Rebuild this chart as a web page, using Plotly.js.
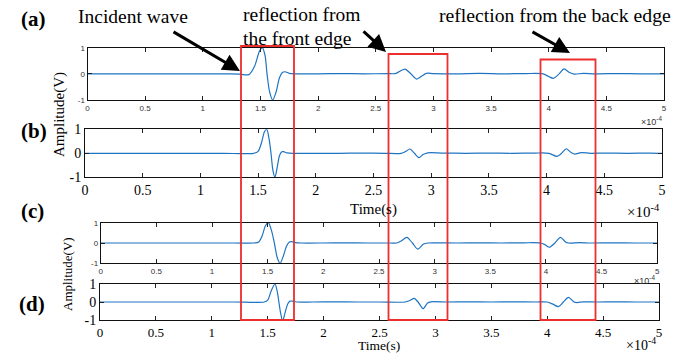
<!DOCTYPE html>
<html>
<head>
<meta charset="utf-8">
<script src="https://cdn.plot.ly/plotly-3.0.1.min.js"></script>
<style>html,body{margin:0;padding:0;background:#fff;}#chart{width:690px;height:353px;}</style>
</head>
<body>
<div id="chart"></div>
<script>
// ---- data (time in units of 1e-4 s, amplitude in V) ----
const tA = [0,0.3,0.6,0.9,1.2,1.33,1.37,1.40,1.45,1.49,1.516,1.54,1.557,1.58,1.606,1.635,1.665,1.69,1.713,1.75,1.8,2.0,2.2,2.4,2.6,2.67,2.71,2.754,2.80,2.855,2.90,2.94,3.0,3.2,3.4,3.6,3.8,3.95,4.0,4.04,4.09,4.133,4.18,4.22,4.3,4.4,4.6,4.8,5.0];
const vA = [0,0,0,0,0,-0.01,-0.04,-0.03,0.3,0.85,1.0,0.7,0,-0.7,-1.0,-0.7,-0.15,0.05,0.08,0.02,0,0,0.01,0,0.01,0.01,0.1,0.18,0.02,-0.2,-0.08,0.02,0.01,0,0.015,0,0.01,0,-0.1,-0.17,0,0.19,0.05,-0.01,0.02,0,0.01,0,0];

const tB = [0,0.3,0.6,0.9,1.2,1.46,1.50,1.53,1.555,1.575,1.595,1.612,1.628,1.646,1.665,1.685,1.705,1.72,1.75,1.8,2.0,2.2,2.4,2.6,2.74,2.78,2.816,2.855,2.894,2.93,2.97,3.1,3.3,3.5,3.7,3.9,4.02,4.09,4.13,4.17,4.21,4.24,4.3,4.38,4.5,4.7,4.9,5.0];
const vB = [0,0,0,0,0,0,0.08,0.45,0.9,1.0,0.6,0,-0.7,-1.0,-0.6,-0.1,0.06,0.07,0.02,0,0,0,0.01,0,0,0.08,0.18,0,-0.18,-0.05,0.02,0.01,0,0.01,0,0.01,0,-0.13,0,0.19,0.04,-0.03,0.03,0,0.01,0,0.01,0];

const tC = [0,0.3,0.6,0.9,1.2,1.38,1.42,1.45,1.48,1.506,1.535,1.56,1.585,1.611,1.64,1.67,1.695,1.716,1.75,1.8,2.0,2.2,2.4,2.6,2.66,2.70,2.75,2.80,2.848,2.90,2.94,3.0,3.2,3.4,3.6,3.8,3.95,3.99,4.03,4.08,4.13,4.17,4.2,4.3,4.4,4.6,4.8,5.0];
const vC = [0,0,0,0,0,0,0.05,0.35,0.85,1.0,0.6,0,-0.7,-1.0,-0.65,-0.15,0.05,0.07,0.02,0,0,0.01,0,0,0,0.1,0.28,0,-0.3,-0.05,0,0.01,0,0.01,0,0.01,0,-0.08,-0.21,0,0.28,0.08,0,0.02,0,0.01,0,0];

const tD = [0,0.3,0.6,0.9,1.2,1.47,1.50,1.53,1.565,1.585,1.60,1.615,1.634,1.655,1.68,1.70,1.72,1.76,1.9,2.1,2.3,2.5,2.73,2.77,2.81,2.845,2.89,2.93,2.96,3.1,3.3,3.5,3.7,3.9,4.0,4.05,4.10,4.145,4.19,4.24,4.27,4.32,4.45,4.6,4.8,5.0];
const vD = [0,0,0,0,0,0,0.1,0.6,1.0,0.6,0,-0.6,-1.05,-0.6,-0.1,0.05,0.05,0,0,0.01,0,0,0,0.08,0.2,0,-0.37,-0.05,0.01,0,0.01,0,0.01,0,0,-0.12,-0.26,0,0.26,0,-0.03,0.01,0,0.01,0,0];

const xTickVals = [0,0.5,1,1.5,2,2.5,3,3.5,4,4.5,5];
const xTickText = ['0','0.5','1','1.5','2','2.5','3','3.5','4','4.5','5'];
const yTickVals = [-1,0,1];
const yTickText = ['-1','0','1'];

// ---- layout helpers ----
const W = 690, H = 353;
const px = x => x / W;
const py = y => 1 - y / H;
const SERIF = 'Liberation Serif, Times New Roman, serif';
const SANS = 'Liberation Sans, Arial, sans-serif';
const LINE = '#1f74c2';

function trace(t, v, i) {
  const s = i === 1 ? '' : String(i);
  return {x: t, y: v, xaxis: 'x' + s, yaxis: 'y' + s, type: 'scatter', mode: 'lines',
          line: {color: LINE, width: 1.2, shape: 'spline', smoothing: 0.8}, hoverinfo: 'skip'};
}
function xax(dom, anchor, small, fsize) {
  return {domain: dom, anchor: anchor, range: [0, 5], tickvals: xTickVals, ticktext: xTickText,
    ticks: 'inside', ticklen: 4, tickcolor: '#222', showline: true, linecolor: '#111', linewidth: 1,
    mirror: 'ticks', showgrid: false, zeroline: false,
    tickfont: small ? {family: SANS, size: 8, color: '#333'} : {family: SERIF, size: fsize || 14, color: '#000'}};
}
function yax(dom, anchor, small) {
  return {domain: dom, anchor: anchor, range: [-1, 1], tickvals: yTickVals, ticktext: yTickText,
    ticks: 'inside', ticklen: 4, tickcolor: '#222', showline: true, linecolor: '#111', linewidth: 1,
    mirror: 'ticks', showgrid: false, zeroline: false,
    tickfont: small ? {family: SANS, size: 8, color: '#333'} : {family: SERIF, size: 14, color: '#000'}};
}

const data = [trace(tA, vA, 1), trace(tB, vB, 2), trace(tC, vC, 3), trace(tD, vD, 4)];

function txt(text, x, y, size, opts) {
  return Object.assign({xref: 'paper', yref: 'paper', x: px(x), y: py(y), text: text, showarrow: false,
    xanchor: 'left', yanchor: 'middle', font: {family: SERIF, size: size, color: '#000'}}, opts || {});
}
function arrow(tipX, tipY, tailX, tailY) {
  return {xref: 'paper', yref: 'paper', x: px(tipX), y: py(tipY), text: '', showarrow: true,
    ax: tailX - tipX, ay: tailY - tipY, arrowhead: 2, arrowsize: 1.15, arrowwidth: 3, arrowcolor: '#000', standoff: 0};
}
function rect(x0, y0, x1, y1) {
  return {type: 'rect', xref: 'paper', yref: 'paper', x0: px(x0), x1: px(x1), y0: py(y1), y1: py(y0),
    line: {color: 'rgb(238,45,45)', width: 1.8}, fillcolor: 'rgba(0,0,0,0)', layer: 'above'};
}

const layout = {
  width: W, height: H, margin: {l: 0, r: 0, t: 0, b: 0},
  paper_bgcolor: '#fff', plot_bgcolor: '#fff', showlegend: false,
  xaxis: xax([px(87.5), px(664)], 'y', true),
  yaxis: yax([py(100), py(47.7)], 'x', true),
  xaxis2: xax([px(85), px(662)], 'y2', false),
  yaxis2: yax([py(177.3), py(129.3)], 'x2', false),
  xaxis3: xax([px(100.7), px(657.3)], 'y3', true),
  yaxis3: yax([py(263.3), py(222.7)], 'x3', true),
  xaxis4: xax([px(100), px(659)], 'y4', false, 13),
  yaxis4: yax([py(320), py(284)], 'x4', false),
  shapes: [
    rect(241, 46, 294, 320),
    rect(388.5, 54, 447.5, 320),
    rect(540.5, 59.5, 595.5, 320)
  ],
  annotations: [
    txt('<b>(a)</b>', 19, 19, 21),
    txt('<b>(b)</b>', 19, 131, 21),
    txt('<b>(c)</b>', 19, 211, 21),
    txt('<b>(d)</b>', 17, 304, 21),
    txt('Incident wave', 76, 16, 19.5),
    txt('reflection from', 241, 15, 19.5),
    txt('the front edge', 241, 38, 19.5),
    txt('reflection from the back edge', 437, 15, 19.7),
    arrow(240, 71, 172, 31),
    arrow(386, 52, 362, 30),
    arrow(570, 53, 531, 31),
    txt('Amplitude(V)', 60, 115, 15, {xanchor: 'center', textangle: -90}),
    txt('Amplitude(V)', 67, 274, 13, {xanchor: 'center', textangle: -90}),
    txt('Time(s)', 373, 209, 15, {xanchor: 'center'}),
    txt('Time(s)', 379, 345, 13.5, {xanchor: 'center', borderpad: 0}),
    txt('×10<sup>-4</sup>', 651, 121, 9, {xanchor: 'center', font: {family: SANS, size: 9, color: '#333'}}),
    txt('×10<sup>-4</sup>', 643, 211, 15, {xanchor: 'center'}),
    txt('×10<sup>-4</sup>', 644, 280, 9, {xanchor: 'center', font: {family: SANS, size: 9, color: '#333'}}),
    txt('×10<sup>-4</sup>', 641, 344, 14, {xanchor: 'center'})
  ]
};

Plotly.newPlot('chart', data, layout, {staticPlot: true, displayModeBar: false});
</script>
</body>
</html>
